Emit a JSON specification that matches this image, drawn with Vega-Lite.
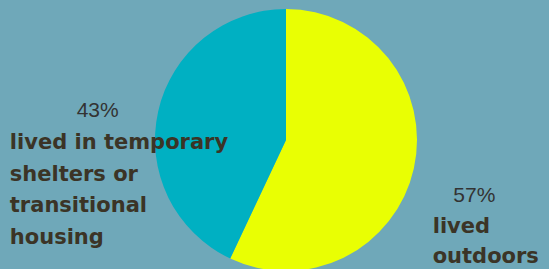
{
  "$schema": "https://vega.github.io/schema/vega-lite/v6.json",
  "width": 526,
  "height": 258,
  "padding": {"left": 23, "top": 11, "right": 0, "bottom": 0},
  "autosize": {"type": "none"},
  "background": "#6fa8b9",
  "config": {"view": {"stroke": null}},
  "data": {
    "values": [
      {"group": "lived outdoors", "pct": 57, "label": "57%", "desc": "lived\noutdoors"},
      {"group": "lived in temporary shelters or transitional housing", "pct": 43, "label": "43%", "desc": "lived in temporary\nshelters or\ntransitional\nhousing"}
    ]
  },
  "encoding": {
    "theta": {"field": "pct", "type": "quantitative", "stack": true},
    "order": {"field": "pct", "type": "quantitative", "sort": "descending"}
  },
  "layer": [
    {
      "mark": {"type": "arc", "outerRadius": 131},
      "encoding": {
        "color": {
          "field": "group",
          "type": "nominal",
          "scale": {
            "domain": ["lived outdoors", "lived in temporary shelters or transitional housing"],
            "range": ["#e9ff03", "#00b0c2"]
          },
          "legend": null
        }
      }
    },
    {
      "mark": {"type": "text", "radius": 193, "dy": 13.5, "font": "Liberation Sans", "fontSize": 21, "color": "#333333", "baseline": "middle", "align": "center"},
      "encoding": {"text": {"field": "label", "type": "nominal"}}
    },
    {
      "mark": {"type": "text", "radius": 283, "dy": 70.7, "align": "left", "baseline": "alphabetic", "lineBreak": "\n", "lineHeight": 31.7, "font": "DejaVu Sans", "fontWeight": "bold", "fontSize": 21, "color": "#3b3426"},
      "encoding": {"text": {"condition": {"test": "datum.pct == 43", "field": "desc"}, "value": ""}}
    },
    {
      "mark": {"type": "text", "radius": 150.3, "dy": 60.2, "align": "left", "baseline": "alphabetic", "lineBreak": "\n", "lineHeight": 30, "font": "DejaVu Sans", "fontWeight": "bold", "fontSize": 21, "color": "#3b3426"},
      "encoding": {"text": {"condition": {"test": "datum.pct == 57", "field": "desc"}, "value": ""}}
    }
  ]
}
